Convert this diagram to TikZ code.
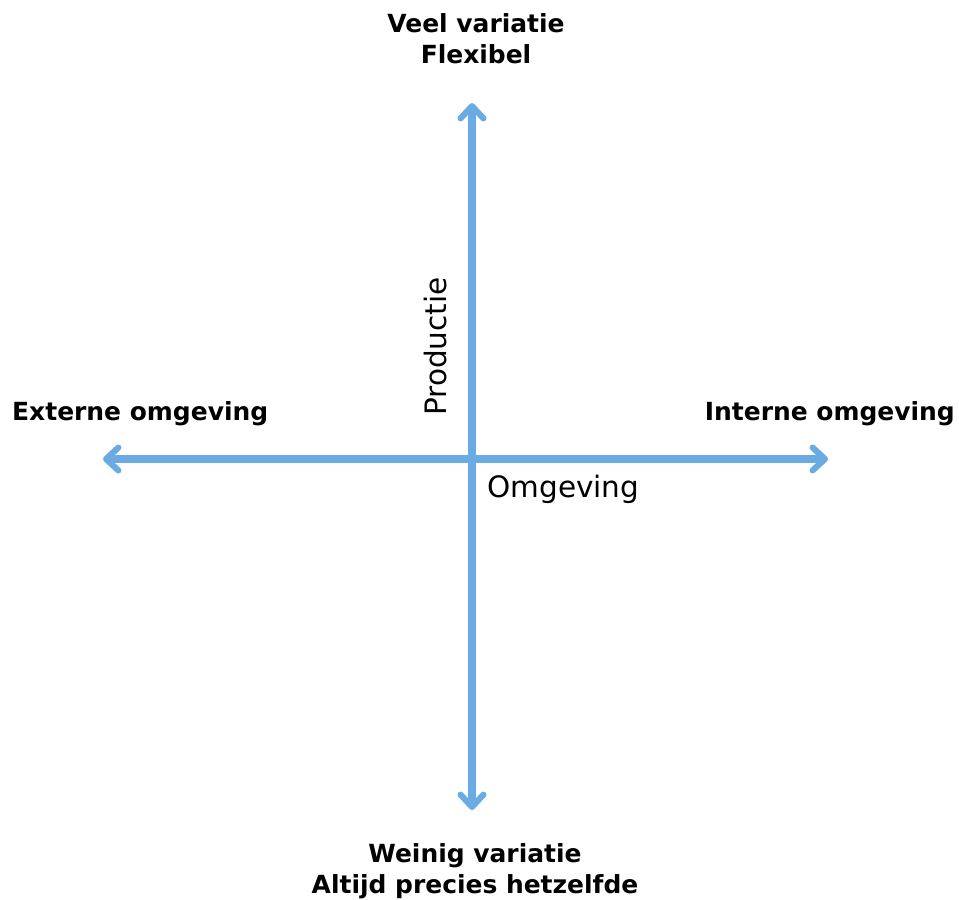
\documentclass[tikz,border=0pt]{standalone}
\usepackage{fontspec}
\setmainfont{DejaVu Sans}
\usetikzlibrary{arrows.meta}
\definecolor{axisblue}{HTML}{6AABE3}

\begin{document}
\begin{tikzpicture}[x=0.02cm,y=-0.02cm,
	axis/.style={draw=axisblue,line width=4pt,-{Straight Barb[length=7pt,width=13pt,line width=3.5pt,round]}},
	pole/.style={font=\bfseries\fontsize{14.2}{17.6}\selectfont,align=center},
	axislabel/.style={font=\fontsize{16.8}{19}\selectfont,inner sep=0pt}]
	\useasboundingbox (0,0) rectangle (959,899);

	\coordinate (O)   at (472,459);
	\coordinate (top) at (472,103);
	\coordinate (bot) at (472,810);
	\coordinate (lft) at (103,459);
	\coordinate (rgt) at (828,459);

	\draw[axis] (O) -- (top);
	\draw[axis] (O) -- (bot);
	\draw[axis] (O) -- (lft);
	\draw[axis] (O) -- (rgt);

	\node[pole] (flex)  at (476,39)  {Veel variatie\\Flexibel};
	\node[pole] (same)  at (475,871) {Weinig variatie\\Altijd precies hetzelfde};
	\node[pole,anchor=west] (ext) at (6,414)   {Externe omgeving};
	\node[pole,anchor=east] (int) at (961,414) {Interne omgeving};

	\node[axislabel,rotate=90,anchor=south west] (prod) at (447,416) {Productie};
	\node[axislabel,anchor=west] (omg) at (487,489) {Omgeving};
\end{tikzpicture}
\end{document}
